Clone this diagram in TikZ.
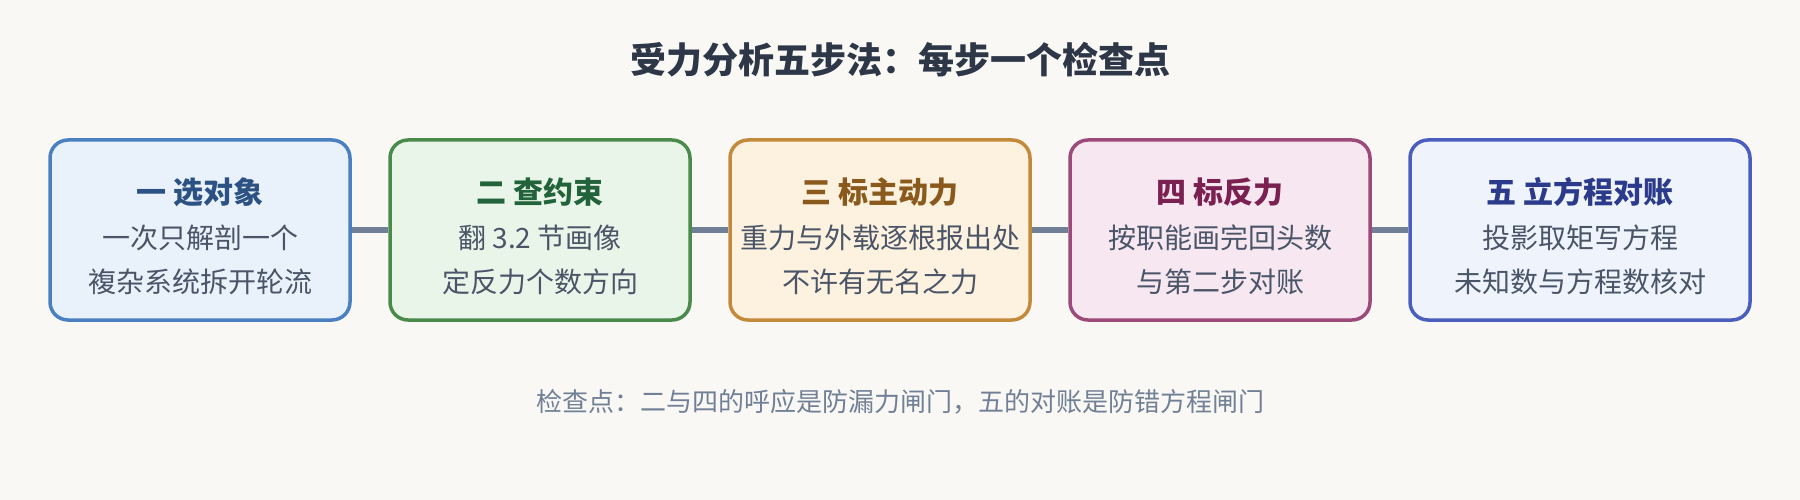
\documentclass[tikz,border=0pt]{standalone}
\usepackage{fontspec}
\setmainfont{Noto Sans CJK SC}
\usetikzlibrary{positioning}
\definecolor{bg}{HTML}{F9F8F4}
\definecolor{bdA}{HTML}{4A7FC0}\definecolor{fA}{HTML}{E9F1FA}\definecolor{tA}{HTML}{2B5283}
\definecolor{bdB}{HTML}{4A8B4C}\definecolor{fB}{HTML}{EAF5EA}\definecolor{tB}{HTML}{22633C}
\definecolor{bdC}{HTML}{C48A3C}\definecolor{fC}{HTML}{FDF1DF}\definecolor{tC}{HTML}{8A5A1C}
\definecolor{bdD}{HTML}{9B4A7A}\definecolor{fD}{HTML}{F6E7F1}\definecolor{tD}{HTML}{7B2152}
\definecolor{bdE}{HTML}{4A5FBD}\definecolor{fE}{HTML}{EEF3FC}\definecolor{tE}{HTML}{2B3A8A}
\definecolor{body}{HTML}{4A5568}
\definecolor{ttl}{HTML}{2D3748}
\definecolor{foot}{HTML}{718096}
\definecolor{link}{HTML}{718096}
\begin{document}
\begin{tikzpicture}[x=1pt,y=-1pt,
  stepbox/.style={draw, line width=3.5pt, rounded corners=18pt, minimum height=180pt, inner sep=0pt},
  heading/.style={font=\bfseries\fontsize{30}{36}\selectfont, anchor=center},
  bodytext/.style={font=\fontsize{28}{34}\selectfont, text=body, anchor=center},
  linkline/.style={draw=link, line width=6pt}]
\fill[bg] (0,0) rectangle (1800,500);
\useasboundingbox (0,0) rectangle (1800,500);
\node[font=\bfseries\fontsize{36}{42}\selectfont, text=ttl] (title) at (900,60) {受力分析五步法：每步一个检查点};
% boxes
\node[stepbox, draw=bdA, fill=fA, minimum width=300pt] (b1) at (200,230) {};
\node[stepbox, draw=bdB, fill=fB, minimum width=300pt] (b2) at (540,230) {};
\node[stepbox, draw=bdC, fill=fC, minimum width=300pt] (b3) at (880,230) {};
\node[stepbox, draw=bdD, fill=fD, minimum width=300pt] (b4) at (1220,230) {};
\node[stepbox, draw=bdE, fill=fE, minimum width=340pt] (b5) at (1580,230) {};
% connectors
\draw[linkline] (b1.east) -- (b2.west);
\draw[linkline] (b2.east) -- (b3.west);
\draw[linkline] (b3.east) -- (b4.west);
\draw[linkline] (b4.east) -- (b5.west);
% texts
\node[heading, text=tA] (h1) at (200,192) {一 选对象};
\node[bodytext] (l1a) at (200,238) {一次只解剖一个};
\node[bodytext] (l1b) at (200,282) {複杂系统拆开轮流};
\node[heading, text=tB] (h2) at (540,192) {二 查约束};
\node[bodytext] (l2a) at (540,238) {翻 3.2 节画像};
\node[bodytext] (l2b) at (540,282) {定反力个数方向};
\node[heading, text=tC] (h3) at (880,192) {三 标主动力};
\node[bodytext] (l3a) at (880,238) {重力与外载逐根报出处};
\node[bodytext] (l3b) at (880,282) {不许有无名之力};
\node[heading, text=tD] (h4) at (1220,192) {四 标反力};
\node[bodytext] (l4a) at (1220,238) {按职能画完回头数};
\node[bodytext] (l4b) at (1220,282) {与第二步对账};
\node[heading, text=tE] (h5) at (1580,192) {五 立方程对账};
\node[bodytext] (l5a) at (1580,238) {投影取矩写方程};
\node[bodytext] (l5b) at (1580,282) {未知数与方程数核对};
\node[font=\fontsize{26}{32}\selectfont, text=foot] (note) at (900,402) {检查点：二与四的呼应是防漏力闸门，五的对账是防错方程闸门};
\end{tikzpicture}
\end{document}
